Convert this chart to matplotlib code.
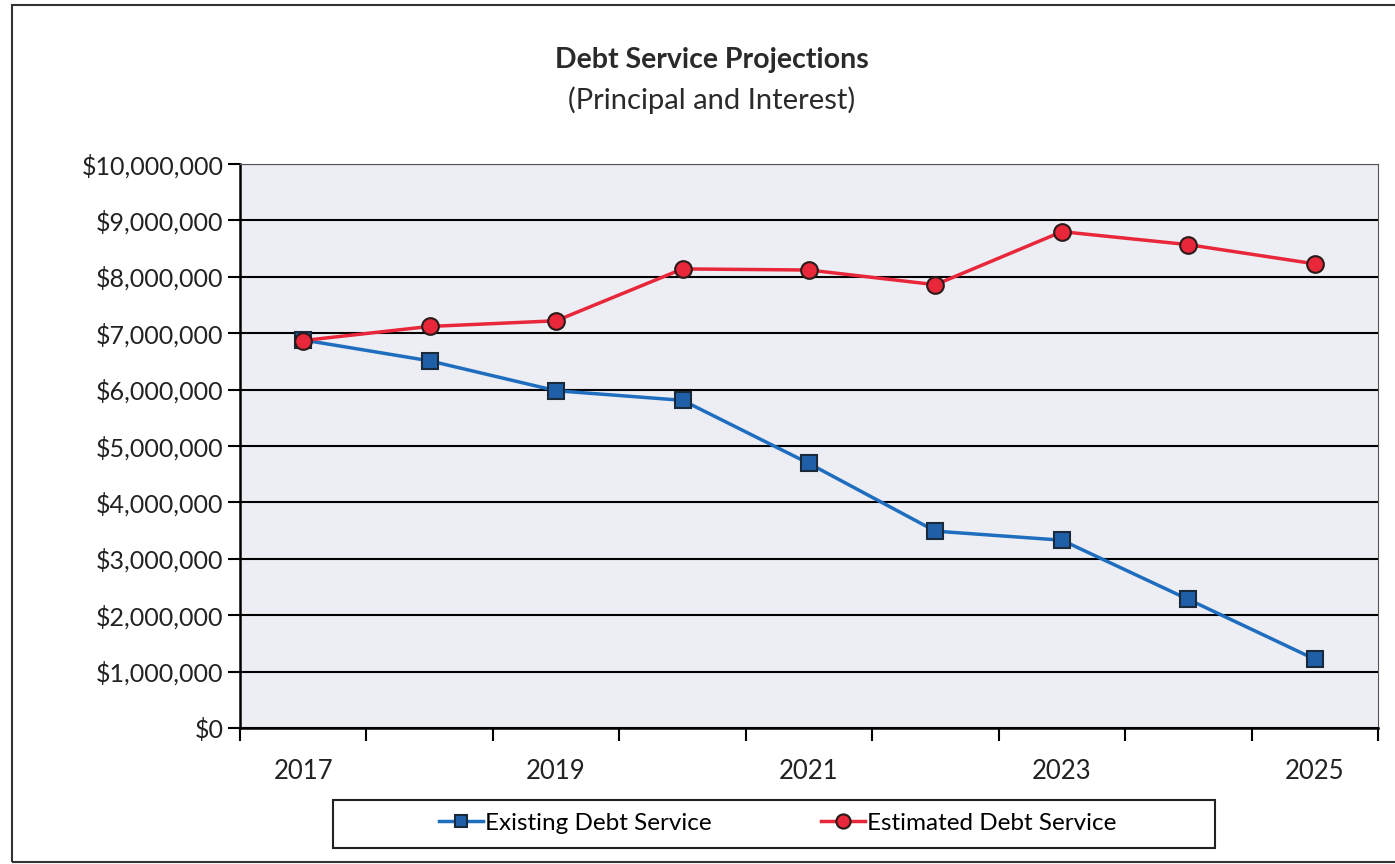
import matplotlib.pyplot as plt
from matplotlib.patches import Rectangle
from matplotlib.ticker import FuncFormatter

years = ["2017", "2018", "2019", "2020", "2021", "2022", "2023", "2024", "2025"]
existing = [6880000, 6510000, 5980000, 5810000, 4690000, 3490000, 3330000, 2280000, 1220000]
estimated = [6870000, 7120000, 7220000, 8140000, 8120000, 7860000, 8800000, 8570000, 8230000]
shown_years = ["2017", "2019", "2021", "2023", "2025"]

plt.rcParams['font.family'] = ['Lato', 'DejaVu Sans']

fig = plt.figure(figsize=(13.95, 8.64), dpi=100)
fig.patch.set_facecolor("white")

# outer chart border
fig.patches.append(Rectangle((12 / 1395, 2 / 864), 1.2, 1 - 7 / 864, transform=fig.transFigure,
                             fill=False, edgecolor="#333333", linewidth=1.5, zorder=0))

ax = fig.add_axes([240 / 1395, 1 - 728 / 864, 1138 / 1395, 564 / 864])
ax.set_facecolor("#ECEEF3")

x = list(range(len(years)))
ax.plot(x, existing, color="#1F6DBF", linewidth=2.5, marker="s", markersize=11,
        markerfacecolor="#1F5FA8", markeredgecolor="#1A2A3A", markeredgewidth=1.5,
        label="Existing Debt Service", zorder=4)
ax.plot(x, estimated, color="#E8283A", linewidth=2.5, marker="o", markersize=12,
        markerfacecolor="#E8283A", markeredgecolor="#2A1A1A", markeredgewidth=1.5,
        label="Estimated Debt Service", zorder=5)

ax.set_ylim(0, 10000000)
ax.set_xlim(-0.5, len(years) - 0.5)
ax.set_yticks(range(0, 10000001, 1000000))
ax.yaxis.set_major_formatter(FuncFormatter(lambda v, p: "${:,.0f}".format(v)))
ax.grid(axis="y", color="black", linewidth=1.5)
ax.set_axisbelow(True)

# category ticks between categories, labels on every other year
ax.set_xticks([i - 0.5 for i in range(len(years) + 1)])
ax.set_xticklabels([])
ax.set_xticks([years.index(y) for y in shown_years], minor=True)
ax.set_xticklabels(shown_years, minor=True)
ax.tick_params(axis="x", which="major", direction="out", length=9, width=1.5, color="black")
ax.tick_params(axis="x", which="minor", length=0, pad=22, labelsize=18.5, labelcolor="#222222")
ax.tick_params(axis="y", direction="out", length=9, width=1.5, color="black", pad=3,
               labelsize=18, labelcolor="#222222")

ax.spines["left"].set_linewidth(1.8)
ax.spines["bottom"].set_linewidth(1.8)
ax.spines["top"].set_color("#555555")
ax.spines["right"].set_color("#555555")

fig.text(0.510, 1 - 60 / 864, "Debt Service Projections", ha="center", va="center",
         fontsize=20.5, fontweight="bold", color="#2A2A2A")
fig.text(0.510, 1 - 100 / 864, "(Principal and Interest)", ha="center", va="center",
         fontsize=21, color="#2A2A2A")

# legend box
fig.patches.append(Rectangle((333 / 1395, 1 - 848 / 864), 882 / 1395, 48 / 864,
                             transform=fig.transFigure, fill=False, edgecolor="#222222",
                             linewidth=1.5))
fig.legend(loc="center", bbox_to_anchor=(778 / 1395, 1 - 823 / 864), ncol=2, frameon=False,
           fontsize=17.5, handlelength=1.8, handletextpad=0.1, columnspacing=4.5,
           markerscale=0.85)

fig.savefig("out.png", dpi=100)
